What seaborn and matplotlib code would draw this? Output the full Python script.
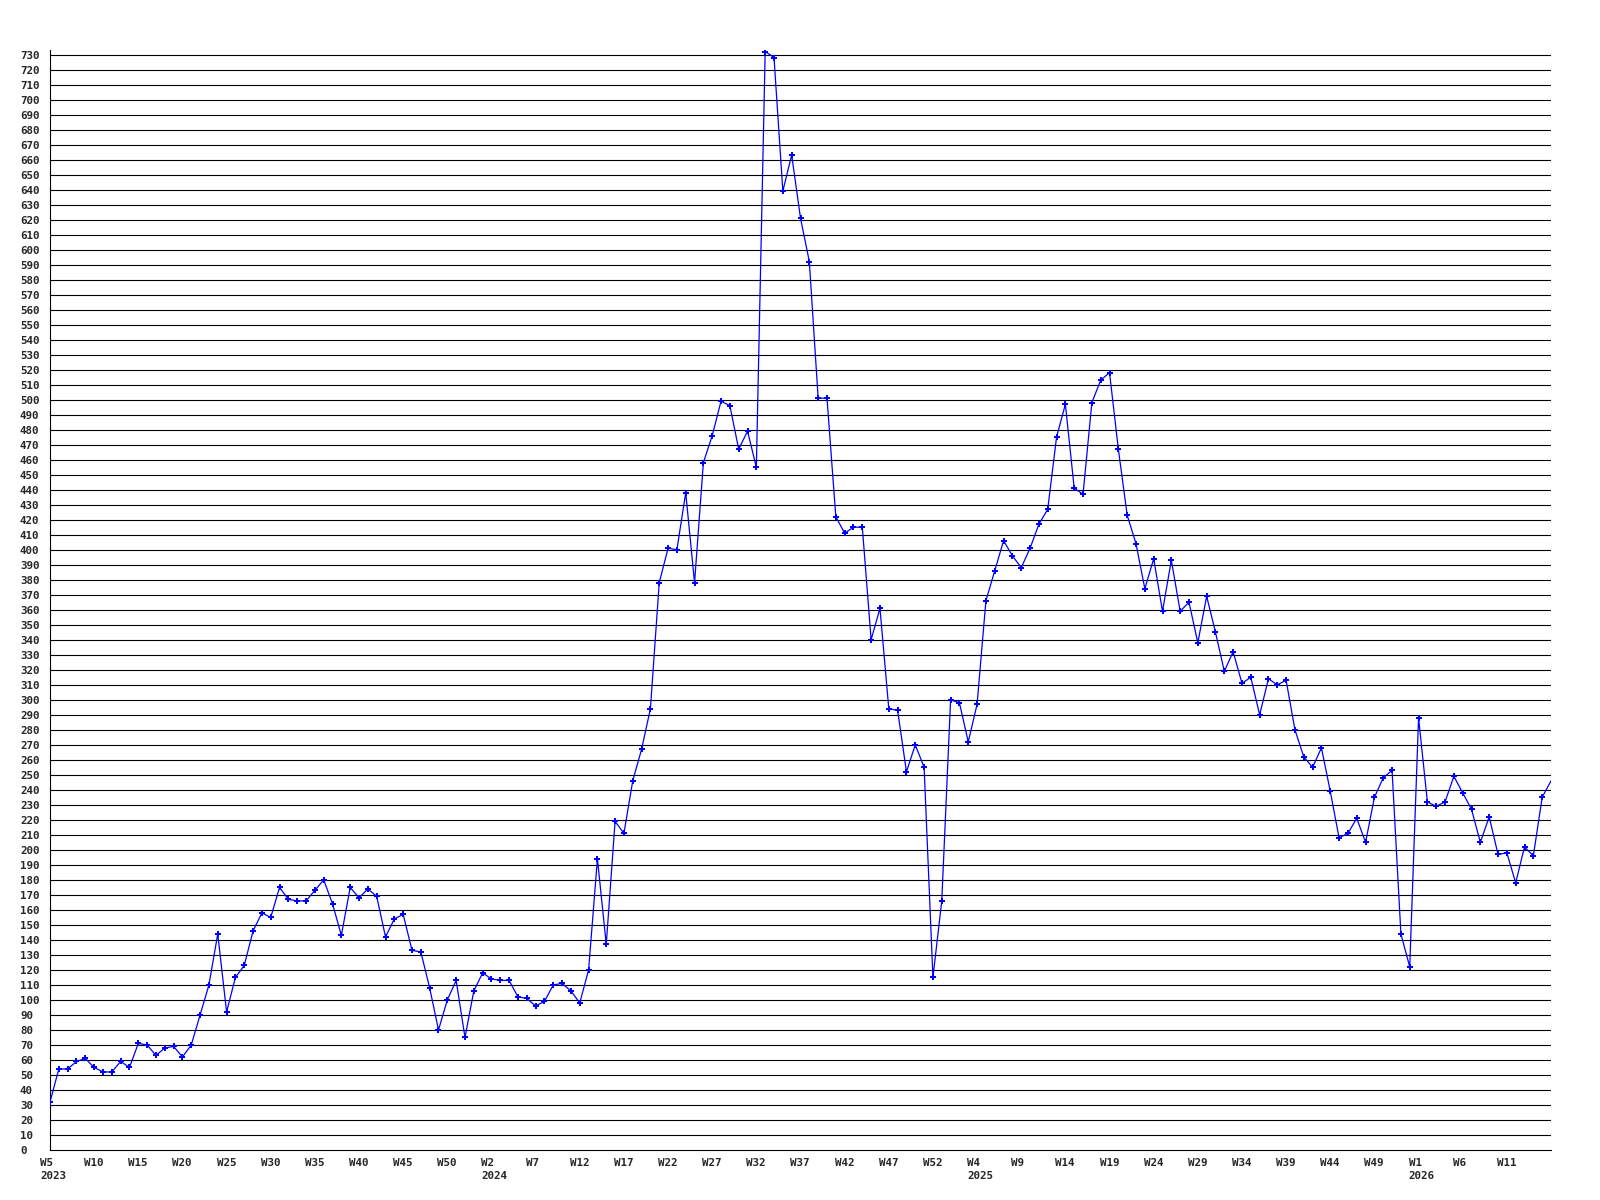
import matplotlib
matplotlib.use("Agg")
import matplotlib.pyplot as plt
import matplotlib.transforms as mtransforms
import seaborn as sns
import pandas as pd

# weekly values, 2023 W5 onwards
values = [
    32, 54, 54, 59, 61, 55, 52, 52, 59, 55, 71, 70, 63, 68, 69, 62, 70, 90, 110, 144, 92, 115, 123,
    146, 158, 155, 175, 167, 166, 166, 173, 180, 164, 143, 175, 168, 174, 169, 142, 154, 157, 133, 132, 108,
    80, 100, 113, 75, 106, 118, 114, 113, 113, 102, 101, 96, 99, 110, 111, 106, 98, 120, 194, 137,
    219, 211, 246, 267, 294, 378, 401, 400, 438, 378, 458, 476, 499, 496, 467, 479, 455,
    732, 728, 639, 663, 621, 592, 501, 501,
    422, 411, 415, 415, 340, 361, 294, 293, 252, 270, 255, 115, 166, 300, 298, 272, 297, 366, 386,
    406, 396, 388, 401, 417, 427, 475, 497, 441, 437, 498, 513, 518, 467, 423, 404, 374, 394, 359, 393, 359, 365,
    338, 369, 345, 319, 332, 311, 315, 290, 314, 310, 313, 280, 262, 255, 268, 239, 208, 211, 221, 205, 235,
    248, 253, 144, 122, 288, 232, 229, 232, 249, 238, 227, 205, 222, 197, 198, 178, 202, 196, 235, 246,
]

# x tick labels, one every 5 weeks
tick_weeks = [5, 10, 15, 20, 25, 30, 35, 40, 45, 50,
              2, 7, 12, 17, 22, 27, 32, 37, 42, 47, 52,
              4, 9, 14, 19, 24, 29, 34, 39, 44, 49,
              1, 6, 11]
year_ticks = {0: "2023", 10: "2024", 21: "2025", 31: "2026"}

df = pd.DataFrame({"idx": range(len(values)), "value": values})

sns.set_style("white")
plt.rcParams["font.family"] = ["DejaVu Sans Mono"]
plt.rcParams["font.weight"] = "bold"

fig = plt.figure(figsize=(16, 12), dpi=100)
ax = fig.add_axes([50 / 1600, 1 - 1150 / 1200, 1501 / 1600, 1100 / 1200])

for v in range(10, 740, 10):
    ax.axhline(v, color="black", linewidth=0.8, zorder=1)

# last week sits on the right edge, its marker is not shown
sns.lineplot(data=df, x="idx", y="value", ax=ax, color="#0000ff", linewidth=0.9,
             marker="P", markersize=5, markeredgewidth=0, markerfacecolor="#0000ff",
             markevery=list(range(len(values) - 1)), zorder=3)

ax.set_xlim(0, 170)
ax.set_ylim(0, 733)

ax.set_yticks(list(range(0, 740, 10)))
ax.set_yticklabels([str(v) for v in range(0, 740, 10)])

xt = [i * 5 for i in range(len(tick_weeks))]
xl = []
for i, w in enumerate(tick_weeks):
    lab = f"W{w}"
    if i in year_ticks:
        lab += "\n" + year_ticks[i]
    xl.append(lab)
ax.set_xticks(xt)
ax.set_xticklabels(xl)

ax.tick_params(axis="both", length=0, pad=0, labelsize=7.8)
ax.set_xlabel("")
ax.set_ylabel("")

off_x = mtransforms.ScaledTranslation(-10 / 100, -8 / 100, fig.dpi_scale_trans)
for t in ax.get_xticklabels():
    t.set_horizontalalignment("left")
    t.set_multialignment("left")
    t.set_fontweight("bold")
    t.set_linespacing(1.35)
    t.set_transform(t.get_transform() + off_x)

off_y = mtransforms.ScaledTranslation(-30 / 100, 0, fig.dpi_scale_trans)
for t in ax.get_yticklabels():
    t.set_horizontalalignment("left")
    t.set_fontweight("bold")
    t.set_transform(t.get_transform() + off_y)

for side in ["top", "right"]:
    ax.spines[side].set_visible(False)
for side in ["left", "bottom"]:
    ax.spines[side].set_color("black")
    ax.spines[side].set_linewidth(0.8)

fig.savefig("out.png", dpi=100, facecolor="white")
